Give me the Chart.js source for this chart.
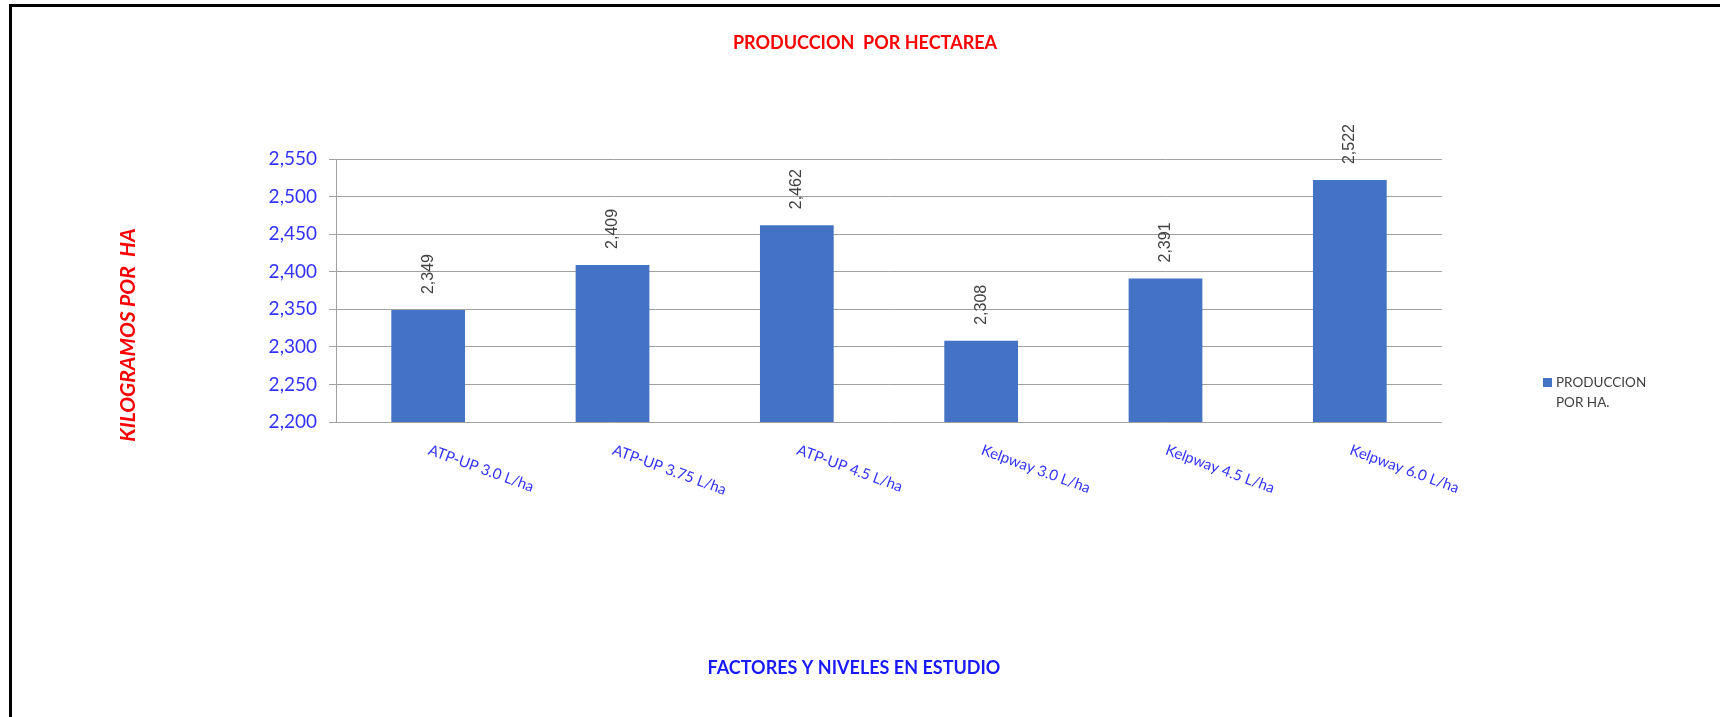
<!DOCTYPE html>
<html>
<head>
<meta charset="utf-8">
<script src="https://cdn.jsdelivr.net/npm/chart.js@4/dist/chart.umd.min.js"></script>
<style>
  html, body { margin: 0; padding: 0; background: #fff; }
  #wrap { position: relative; width: 1720px; height: 717px; overflow: hidden; }
  #frame { position: absolute; left: 9px; top: 4px; width: 1720px; height: 717px;
           border-top: 3px solid #000; border-left: 3px solid #000; pointer-events: none; }
  canvas { position: absolute; left: 0; top: 0; }
</style>
</head>
<body>
<div id="wrap">
  <canvas id="c" width="1720" height="717"></canvas>
  <div id="frame"></div>
</div>
<script>
// ---- Data ----
const categories = ["ATP-UP 3.0 L/ha", "ATP-UP 3.75 L/ha", "ATP-UP 4.5 L/ha", "Kelpway 3.0 L/ha", "Kelpway 4.5 L/ha", "Kelpway 6.0 L/ha"];
const produccion = [2349, 2409, 2462, 2308, 2391, 2522];
const seriesName = "PRODUCCION POR HA.";
const legendLines = ["PRODUCCION", "POR HA."];
const chartTitle = "PRODUCCION  POR HECTAREA";
const yTitle = "KILOGRAMOS POR  HA";
const xTitle = "FACTORES Y NIVELES EN ESTUDIO";
const yMin = 2200, yMax = 2550, yStep = 50;

const fmt = v => Number(v).toLocaleString('en-US');

const decor = {
  id: 'decor',
  afterDatasetsDraw(chart) {
    const ctx = chart.ctx;
    const xs = chart.scales.x;
    const area = chart.chartArea;
    ctx.save();
    // data labels (rotated)
    const meta = chart.getDatasetMeta(0);
    ctx.fillStyle = '#404040';
    ctx.font = '16px "Liberation Sans", Arial, sans-serif';
    ctx.textAlign = 'left';
    ctx.textBaseline = 'middle';
    meta.data.forEach((bar, i) => {
      ctx.save();
      ctx.translate(bar.x, bar.y - 16);
      ctx.rotate(-Math.PI / 2);
      ctx.fillText(fmt(chart.data.datasets[0].data[i]), 0, 0);
      ctx.restore();
    });
    // x tick labels rotated clockwise
    ctx.fillStyle = '#3333ff';
    ctx.font = '15px Lato, sans-serif';
    ctx.textAlign = 'left';
    ctx.textBaseline = 'alphabetic';
    chart.data.labels.forEach((lab, i) => {
      const x = xs.getPixelForTick(i);
      ctx.save();
      ctx.translate(x - 1, area.bottom + 32);
      ctx.rotate(20 * Math.PI / 180);
      ctx.fillText(lab, 0, 0);
      ctx.restore();
    });
    // main title
    ctx.fillStyle = '#ff0000';
    ctx.font = 'bold 18px Lato, sans-serif';
    ctx.textAlign = 'center';
    ctx.textBaseline = 'middle';
    ctx.fillText(chartTitle, 865, 43);
    // x axis title
    ctx.fillStyle = '#1a1aff';
    ctx.font = 'bold 18px Lato, sans-serif';
    ctx.fillText(xTitle, 854, 668);
    // y axis title
    ctx.save();
    ctx.translate(128, 335);
    ctx.rotate(-Math.PI / 2);
    ctx.fillStyle = '#ff0000';
    ctx.font = 'italic bold 21px Lato, sans-serif';
    ctx.fillText(yTitle, 0, 0);
    ctx.restore();
    // legend
    ctx.fillStyle = chart.data.datasets[0].backgroundColor;
    ctx.fillRect(1543, 378, 9, 9);
    ctx.fillStyle = '#404040';
    ctx.font = '13.5px Lato, sans-serif';
    ctx.textAlign = 'left';
    ctx.textBaseline = 'middle';
    legendLines.forEach((t, k) => ctx.fillText(t, 1556, 383 + k * 20));
    ctx.restore();
  }
};

new Chart(document.getElementById('c'), {
  type: 'bar',
  data: {
    labels: categories,
    datasets: [{
      label: seriesName,
      data: produccion,
      backgroundColor: '#4472C4',
      borderWidth: 0,
      categoryPercentage: 1.0,
      barPercentage: 0.4
    }]
  },
  options: {
    responsive: false,
    devicePixelRatio: 1,
    animation: false,
    layout: { padding: { top: 159, right: 278, bottom: 0, left: 0 } },
    plugins: { legend: { display: false }, title: { display: false }, tooltip: { enabled: false } },
    scales: {
      x: {
        afterFit: s => { s.height = 295; },
        grid: { display: false },
        border: { display: false },
        ticks: { display: false }
      },
      y: {
        min: yMin, max: yMax,
        afterFit: s => { s.width = 336; },
        grid: { color: '#a0a0a0', lineWidth: 1, tickLength: 7, drawTicks: true },
        border: { display: true, color: '#a0a0a0', width: 1 },
        ticks: {
          stepSize: yStep,
          padding: 12,
          color: '#3333ff',
          font: { family: 'Lato', size: 19 },
          callback: v => fmt(v)
        }
      }
    }
  },
  plugins: [decor]
});
</script>
</body>
</html>
